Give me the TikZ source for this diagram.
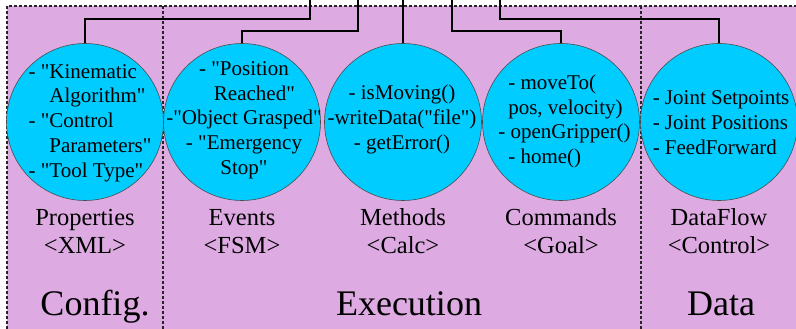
\documentclass[tikz,border=0pt]{standalone}
\usepackage{fontspec}
\setmainfont{Liberation Serif}[Ligatures=TeXOff]
\usetikzlibrary{positioning}

\definecolor{lane}{RGB}{221,170,226}
\definecolor{bubblefill}{RGB}{0,204,255}

\begin{document}
\begin{tikzpicture}[x=1pt,y=1pt,
  blob/.style={circle,draw=black!70,line width=0.6pt,fill=bubblefill,minimum size=157pt,inner sep=0pt},
  inside/.style={font=\fontsize{21}{24.7}\selectfont,inner sep=0pt},
  tag/.style={font=\fontsize{24.5}{28}\selectfont,align=center,inner sep=0pt},
  layer/.style={font=\fontsize{36}{40}\selectfont,inner sep=0pt,anchor=base},
  wire/.style={line width=2.6pt},
  fence/.style={densely dashed,line width=1.1pt,black!85}]
\useasboundingbox (0,0) rectangle (796,329);

% lanes
\fill[lane] (7,-5) rectangle (800,323);
\draw[fence] (7,-5) |- (800,323);
\draw[fence] (163,323) -- (163,-5);
\draw[fence] (641,323) -- (641,-5);

% bubbles
\node[blob] (props) at (85,207) {};
\node[blob] (events) at (242,207) {};
\node[blob] (methods) at (403,207) {};
\node[blob] (cmds) at (561,207) {};
\node[blob] (flow) at (719,207) {};

\node[inside,align=left] (propsTxt) at (90,206)
  {- "Kinematic\\\hphantom{- "}Algorithm"\\- "Control\\\hphantom{- "}Parameters"\\- "Tool Type"};
\node[inside,align=center] (eventsTxt) at (244,209)
  {- "Position\\\hphantom{- "}Reached"\\-"Object Grasped"\\- "Emergency\\Stop"};
\node[inside,align=center] (methodsTxt) at (402,209.5)
  {- isMoving()\\-writeData("file")\\- getError()};
\node[inside,align=left] (cmdsTxt) at (564.5,207.5)
  {\hspace*{10pt}- moveTo(\\\hspace*{10pt}pos, velocity)\\- openGripper()\\\hspace*{10pt}- home()};
\node[inside,align=left] (flowTxt) at (721,206.5)
  {- Joint Setpoints\\- Joint Positions\\- FeedForward};

% captions under the bubbles
\node[tag,below=8pt of props] (propsTag) {Properties\\<XML>};
\node[tag,below=8pt of events] (eventsTag) {Events\\<FSM>};
\node[tag,below=8pt of methods] (methodsTag) {Methods\\<Calc>};
\node[tag,below=8pt of cmds] (cmdsTag) {Commands\\<Goal>};
\node[tag,below=8pt of flow] (flowTag) {DataFlow\\<Control>};

\node[layer] (config) at (95,13) {Config.};
\node[layer] (exec) at (409,13) {Execution};
\node[layer] (data) at (721,13) {Data};

% wires to the top
\coordinate (outA) at (310,329);
\coordinate (outB) at (358,329);
\coordinate (outC) at (402,329);
\coordinate (outD) at (452,329);
\coordinate (outE) at (500,329);

\draw[wire] (props.north) -- ++(0,24) -| (outA);
\draw[wire] (events.north) -- ++(0,12) -| (outB);
\draw[wire] (methods.north) -- (methods.north |- outC);
\draw[wire] (cmds.north) -- ++(0,12) -| (outD);
\draw[wire] (flow.north) -- ++(0,24) -| (outE);

\end{tikzpicture}
\end{document}
